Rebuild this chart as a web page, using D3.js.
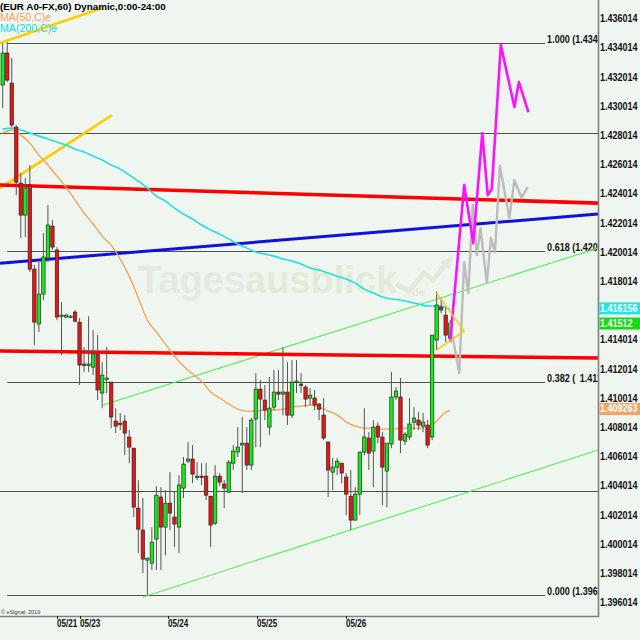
<!DOCTYPE html>
<html><head><meta charset="utf-8">
<script src="https://cdn.jsdelivr.net/npm/d3@7"></script>
<style>html,body{margin:0;padding:0;background:#eff5ef;} svg{display:block}</style>
</head><body><svg id="chart" width="640" height="640"></svg>
<script>
// ---------------- DATA ----------------
const opens = [1.43156,1.43375,1.43169,1.42868,1.42484,1.42265,1.42471,1.41895,1.41519,1.41724,
1.41971,1.42190,1.42026,1.41573,1.41567,1.41573,1.41601,1.41532,1.41245,1.41238,
1.41224,1.41313,1.41046,1.41142,1.41121,1.40854,1.40840,1.40854,1.40745,1.40669,
1.40258,1.40108,1.39902,1.39881,1.40046,1.40334,1.40128,1.40292,1.40197,1.40128,
1.40395,1.40580,1.40594,1.40471,1.40477,1.40477,1.40340,1.40155,1.40477,1.40423,
1.40368,1.40566,1.40642,1.40690,1.40703,1.40553,1.40868,1.41073,1.40998,1.40813,
1.40950,1.41053,1.41039,1.41053,1.40895,1.41121,1.41108,1.41087,1.41012,1.41012,
1.40971,1.40895,1.40710,1.40505,1.40539,1.40566,1.40471,1.40340,1.40176,1.40354,
1.40642,1.40738,1.40649,1.40820,1.40745,1.40512,1.40697,1.41019,1.41019,1.40717,
1.40745,1.40847,1.40861,1.40820,1.40827,1.40745,1.41409,1.41635,1.41580,1.41423];
const highs = [1.43443,1.43450,1.43341,1.42882,1.42553,1.42519,1.42608,1.41923,1.41943,1.42142,
1.42334,1.42231,1.42046,1.41669,1.41587,1.41580,1.41615,1.41560,1.41361,1.41573,
1.41478,1.41443,1.41258,1.41361,1.41121,1.40943,1.40909,1.40895,1.40793,1.40669,
1.40450,1.40327,1.39916,1.40128,1.40409,1.40402,1.40382,1.40505,1.40368,1.40484,
1.40608,1.40710,1.40690,1.40573,1.40566,1.40566,1.40340,1.40553,1.40498,1.40450,
1.40587,1.40690,1.40813,1.40882,1.40813,1.40875,1.41183,1.41135,1.41101,1.41156,
1.41204,1.41204,1.41361,1.41258,1.41272,1.41272,1.41183,1.41101,1.41080,1.41067,
1.40977,1.41012,1.40717,1.40601,1.40601,1.40566,1.40498,1.40519,1.40402,1.40642,
1.40943,1.40779,1.40861,1.40847,1.40779,1.40703,1.41190,1.41087,1.41149,1.40779,
1.41012,1.40950,1.40916,1.40909,1.40861,1.41443,1.41738,1.41697,1.41635,1.41546];
const lows = [1.42998,1.43176,1.42868,1.42402,1.42108,1.42115,1.41875,1.41375,1.41464,1.41683,
1.41943,1.42026,1.41546,1.41306,1.41560,1.41560,1.41532,1.41101,1.41190,1.41190,
1.41169,1.40998,1.40943,1.41046,1.40806,1.40772,1.40793,1.40621,1.40566,1.40197,
1.39950,1.39813,1.39662,1.39834,1.39834,1.39834,1.39936,1.40108,1.39991,1.39950,
1.40327,1.40566,1.40429,1.40450,1.40416,1.40313,1.39991,1.40142,1.40409,1.40258,
1.40361,1.40519,1.40608,1.40361,1.40519,1.40519,1.40676,1.40676,1.40861,1.40758,
1.40930,1.40998,1.40895,1.40827,1.40875,1.41046,1.41046,1.40950,1.40964,1.40930,
1.40861,1.40724,1.40334,1.40382,1.40484,1.40429,1.40210,1.40108,1.40176,1.40210,
1.40621,1.40519,1.40402,1.40703,1.40279,1.40265,1.40669,1.40998,1.40635,1.40690,
1.40724,1.40793,1.40793,1.40779,1.40669,1.40724,1.41341,1.41594,1.41395,1.41395];
const closes = [1.43375,1.43190,1.42882,1.42491,1.42265,1.42450,1.41895,1.41532,1.41724,1.41978,
1.42197,1.42046,1.41567,1.41580,1.41580,1.41573,1.41539,1.41238,1.41238,1.41245,
1.41313,1.41067,1.41169,1.41149,1.40882,1.40820,1.40834,1.40772,1.40676,1.40265,
1.40114,1.39909,1.39916,1.40025,1.40347,1.40128,1.40292,1.40224,1.40149,1.40416,
1.40560,1.40594,1.40491,1.40477,1.40471,1.40347,1.40142,1.40477,1.40436,1.40395,
1.40573,1.40649,1.40676,1.40703,1.40553,1.40861,1.41073,1.41005,1.40930,1.40943,
1.41053,1.41039,1.41053,1.40895,1.41121,1.41128,1.41101,1.41005,1.41032,1.40964,
1.40936,1.40738,1.40519,1.40539,1.40580,1.40498,1.40354,1.40176,1.40354,1.40642,
1.40745,1.40635,1.40813,1.40745,1.40539,1.40703,1.41019,1.41060,1.40724,1.40765,
1.40834,1.40875,1.40827,1.40847,1.40690,1.41443,1.41649,1.41615,1.41443,1.41525];

const maIndex = [0,2,4,6,8,10,12,14,16,18,20,22,24,26,28,30,32,34,36,38,40,42,44,46,48,
50,52,54,56,58,60,62,64,66,68,70,72,74,76,78,80,82,84,86,88,90,92,94,96,98,99];
const ma50 = [1.42827,1.42848,1.42813,1.42758,1.42676,1.42608,1.42532,1.42457,1.42368,1.42279,
1.42204,1.42121,1.42060,1.41964,1.41847,1.41697,1.41546,1.41464,1.41382,1.41299,
1.41231,1.41176,1.41128,1.41053,1.41012,1.40971,1.40936,1.40923,1.40923,1.40930,
1.40930,1.40936,1.40950,1.40957,1.40964,1.40950,1.40923,1.40895,1.40847,1.40820,
1.40806,1.40806,1.40799,1.40799,1.40806,1.40806,1.40806,1.40813,1.40854,1.40916,1.40926];
const ma200 = [1.42854,1.42861,1.42848,1.42827,1.42806,1.42786,1.42765,1.42745,1.42717,1.42697,
1.42669,1.42642,1.42608,1.42580,1.42539,1.42498,1.42450,1.42395,1.42361,1.42313,
1.42272,1.42238,1.42197,1.42163,1.42135,1.42101,1.42067,1.42039,1.42012,1.41998,
1.41984,1.41964,1.41950,1.41930,1.41902,1.41889,1.41868,1.41847,1.41827,1.41799,
1.41758,1.41731,1.41704,1.41690,1.41683,1.41669,1.41656,1.41642,1.41642,1.41635,1.41616];

const priceTicks = [1.436014,1.434014,1.432014,1.430014,1.428014,1.426014,1.424014,1.422014,1.420014,
1.418014,1.414014,1.412014,1.410014,1.408014,1.406014,1.404014,1.402014,1.400014,1.398014,1.396014];
const dateLabels = ["05/21","05/23","05/24","05/25","05/26"];
const dateIndex = [12, 17, 36.6, 56.3, 75.9];

const fibNames = ["1.000","0.618","0.382","0.000"];
const fibPrices = [1.43447,1.42022,1.41125,1.39666];
const fibSpan = [1, 120];
const levelPrices = [1.42827, 1.40375];

const redUpper = [[-0.6,1.42471],[131.7,1.42347]];
const redLower = [[-0.6,1.41334],[131.7,1.41286]];
const blueLine = [[-0.6,1.41936],[131.7,1.42272]];
const yellowA = [[-0.6,1.43443],[21.97,1.43683]];
const yellowB = [[-0.6,1.42450],[24.18,1.42950]];
const yellowTri = [[96.0,1.41731],[102.06,1.41471],[96.0,1.41341]];
const greenUpper = [[22.19,1.40964],[131.7,1.42039]];
const greenLower = [[31.04,1.39649],[131.7,1.40656]];

const magentaIdx = [99.0,102.1,104.1,106.1,107.3,108.2,110.2,113.2,114.2,116.3];
const magentaPrice = [1.41397,1.42471,1.42073,1.42827,1.42402,1.42443,1.43430,1.43005,1.43176,1.42971];
const grayIdx = [99.0,101.0,102.1,103.0,104.0,104.9,105.7,107.1,108.0,108.9,110.0,112.1,113.2,114.8,116.1];
const grayPrice = [1.41525,1.41183,1.41943,1.41731,1.42334,1.41991,1.42176,1.41799,1.42108,1.42012,1.42601,1.42245,1.42505,1.42382,1.42457];

const lastValues = [{v:1.416156, txt:"1.416156", bg:"#22e6e6"},{v:1.41512, txt:"1.41512", bg:"#11dd11"},{v:1.409263, txt:"1.409263", bg:"#f4a460"}];

// ---------------- CHART ----------------
const svg = d3.select("#chart");
const plotR = 598, plotB = 616;
const x = d3.scaleLinear().domain([-0.6, 131.7]).range([0, plotR]);
const y = d3.scaleLinear().domain([1.396014, 1.436014]).range([604, 20]);
const sans = "'Liberation Sans',Arial,sans-serif";

// condensed bold label helper (horizontally scaled text)
function ntext(parent, tx, ty, str, fill, dy, sx){
  const t = parent.append("text").attr("transform",`translate(${tx},${ty}) scale(${sx||0.82},1)`)
    .attr("font-family",sans).attr("font-weight","bold").attr("font-size",11).attr("fill",fill).text(str);
  if (dy) t.attr("dy",dy);
  return t;
}

svg.append("rect").attr("width",640).attr("height",640).attr("fill","#eff5ef");
svg.append("defs").append("clipPath").attr("id","pc").append("rect")
  .attr("x",0).attr("y",0).attr("width",plotR).attr("height",plotB);
const g = svg.append("g").attr("clip-path","url(#pc)");

// watermark
const wm = g.append("text").attr("x",138).attr("y",293).attr("font-family",sans)
  .attr("font-weight","bold").attr("font-size",38);
wm.append("tspan").attr("fill","#e4e9e4").text("Tages");
wm.append("tspan").attr("fill","#e1ebd8").text("ausblick");
g.append("text").attr("x",412).attr("y",296).attr("font-family",sans)
  .attr("font-weight","bold").attr("font-size",11).attr("fill","#e1e9dd").text("de");
g.append("path").attr("d","M396,284 L409,291 L424,273 L433,280 L446,264").attr("fill","none")
  .attr("stroke","#e1ebd8").attr("stroke-width",5);
g.append("path").attr("d","M440,262 L453,255 L449,270 Z").attr("fill","#e1ebd8");

const line = d3.line().x(d=>x(d[0])).y(d=>y(d[1]));

// horizontal levels
levelPrices.forEach(p=>{
  g.append("line").attr("x1",x(-0.6)).attr("x2",plotR).attr("y1",Math.round(y(p))+0.5).attr("y2",Math.round(y(p))+0.5)
   .attr("stroke","#505050").attr("stroke-width",1.2);
});
fibPrices.forEach((p,k)=>{
  const yy = Math.round(y(p))+0.5;
  g.append("line").attr("x1",x(fibSpan[0])).attr("x2",x(fibSpan[1])).attr("y1",yy).attr("y2",yy)
   .attr("stroke","#505050").attr("stroke-width",1.2);
  ntext(g, x(fibSpan[1])+2, yy-1, fibNames[k]+" ("+(k===2?"\u2002":"")+p.toFixed(4)+")", "#111");
});

// trend lines
const trend = (pts,color,w)=>g.append("path").attr("d",line(pts)).attr("fill","none").attr("stroke",color).attr("stroke-width",w);
trend(greenUpper,"#55ee55",1.1);
trend(greenLower,"#55ee55",1.1);
trend(yellowA,"#ffcc00",2.6);
trend(yellowB,"#ffcc00",2.6);
trend(blueLine,"#1010e0",3);
trend(redUpper,"#ff0000",3.6);
trend(redLower,"#ff0000",3.6);

// moving averages
const maLine = d3.line().x((d,i)=>x(maIndex[i])).y(d=>y(d)).curve(d3.curveMonotoneX);
g.append("path").attr("d",maLine(ma200)).attr("fill","none").attr("stroke","#22e0e0").attr("stroke-width",1.6);
g.append("path").attr("d",maLine(ma50)).attr("fill","none").attr("stroke","#f4a050").attr("stroke-width",1.3);

// candles
const idx = d3.range(opens.length);
const bw = 3.4;
const cg = g.append("g");
cg.selectAll("line.w").data(idx).join("line").attr("class","w")
  .attr("x1",i=>x(i)).attr("x2",i=>x(i)).attr("y1",i=>y(highs[i])).attr("y2",i=>y(lows[i]))
  .attr("stroke","#555").attr("stroke-width",1);
cg.selectAll("rect.b").data(idx).join("rect").attr("class","b")
  .attr("x",i=>x(i)-bw/2).attr("width",bw)
  .attr("y",i=>y(Math.max(opens[i],closes[i])))
  .attr("height",i=>Math.max(1.4, Math.abs(y(opens[i])-y(closes[i]))))
  .attr("fill",i=>closes[i]>=opens[i]?"#11ee11":"#ee1111")
  .attr("stroke","#2a2a2a").attr("stroke-width",0.7);

// projections
g.append("path").attr("d",line(grayIdx.map((v,i)=>[v,grayPrice[i]]))).attr("fill","none")
  .attr("stroke","#bcbcbc").attr("stroke-width",2.4).attr("stroke-linejoin","round");
g.append("path").attr("d",line(magentaIdx.map((v,i)=>[v,magentaPrice[i]]))).attr("fill","none")
  .attr("stroke","#ff10ff").attr("stroke-width",2.6).attr("stroke-linejoin","round");
g.append("path").attr("d",line(yellowTri)).attr("fill","none").attr("stroke","#ffcc00").attr("stroke-width",1.5);

// frame
svg.append("line").attr("x1",plotR+0.5).attr("x2",plotR+0.5).attr("y1",0).attr("y2",plotB+1)
  .attr("stroke","#808080").attr("stroke-width",1.6);
svg.append("line").attr("x1",0).attr("x2",plotR+1).attr("y1",plotB+0.5).attr("y2",plotB+0.5)
  .attr("stroke","#808080").attr("stroke-width",1.6);

// right axis labels
priceTicks.forEach(d=>ntext(svg, 600, y(d)-1.5, d.toFixed(6), "#111", "0.34em"));
lastValues.forEach(o=>{
  const yc = y(o.v)-2;
  svg.append("rect").attr("x",599.5).attr("y",yc-5.5).attr("width",41).attr("height",12).attr("fill",o.bg);
  ntext(svg, 600, yc, o.txt, "#fff", "0.34em");
});

// date axis
dateIndex.forEach((d,k)=>{
  const xx = Math.round(x(d))+0.5;
  svg.append("line").attr("x1",xx).attr("x2",xx).attr("y1",plotB).attr("y2",plotB+3).attr("stroke","#222");
  ntext(svg, xx-0.5, 627, dateLabels[k], "#111", null, 0.74);
});

// header
svg.append("text").attr("x",0).attr("y",9.5).attr("font-family",sans)
  .attr("font-weight","bold").attr("font-size",9.8).attr("fill","#000").text("(EUR A0-FX,60) Dynamic,0:00-24:00");
svg.append("text").attr("x",0).attr("y",21).attr("font-family",sans)
  .attr("font-size",10.6).attr("fill","#f4a460").text("MA(50,C)e");
svg.append("text").attr("x",0).attr("y",32).attr("font-family",sans)
  .attr("font-size",10.6).attr("fill","#10e0e0").text("MA(200,C)e");
svg.append("text").attr("x",1).attr("y",614).attr("font-family",sans)
  .attr("font-size",5.5).attr("fill","#333").text("© eSignal, 2010");
</script></body></html>
